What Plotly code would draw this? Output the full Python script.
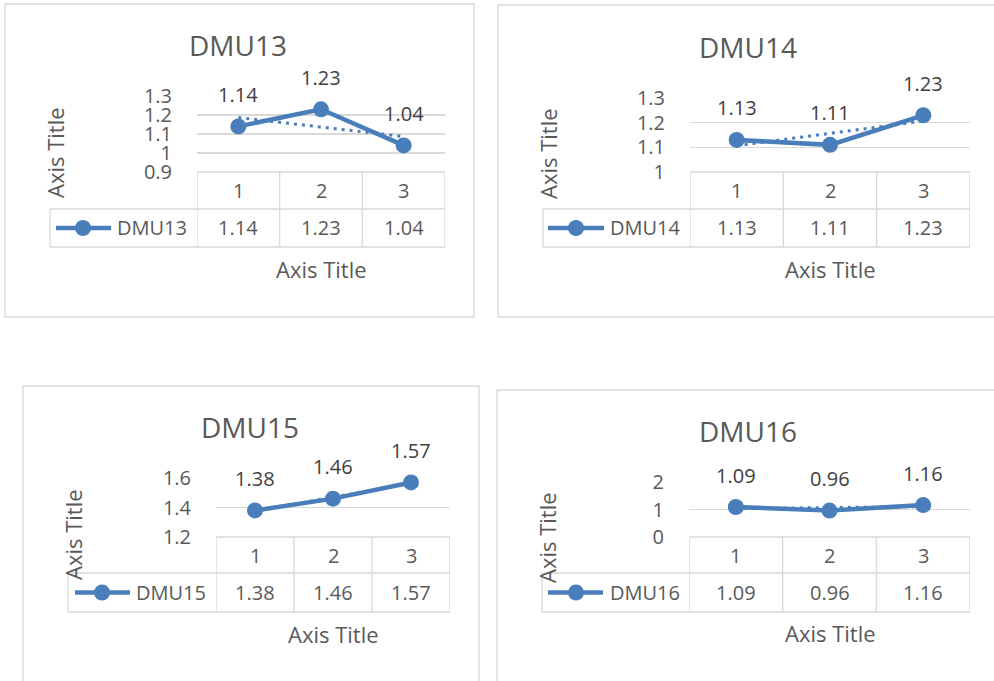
import numpy as np
import plotly.graph_objects as go

W, H = 994, 681

# ---------------- data ----------------
categories = [1, 2, 3]
category_labels = ["1", "2", "3"]
series_names = ["DMU13", "DMU14", "DMU15", "DMU16"]
dmu13 = [1.14, 1.23, 1.04]
dmu14 = [1.13, 1.11, 1.23]
dmu15 = [1.38, 1.46, 1.57]
dmu16 = [1.09, 0.96, 1.16]
series_values = [dmu13, dmu14, dmu15, dmu16]
y_ranges = [[0.9, 1.3], [1.0, 1.3], [1.2, 1.6], [0, 2]]
y_ticks = [[0.9, 1.0, 1.1, 1.2, 1.3], [1.0, 1.1, 1.2, 1.3], [1.2, 1.4, 1.6], [0, 1, 2]]
axis_title = "Axis Title"

# ---------------- styles / layout (pixels) ----------------
BLUE = "#4A7EBB"
TXT = "#595959"
GRID = "#D9D9D9"
FONT = "Open Sans"

boxes = [
    dict(frame=(5, 4, 474, 317), px0=197, px1=445, top=96, ttop=172, r1=209, r2=247,
         lleft=50, key=(56, 111), mark=83, lab=115, title=(238, 45), xt=(321, 269), yt=(55, 153)),
    dict(frame=(498, 5, 1000, 317), px0=690, px1=970, top=98, ttop=172, r1=209, r2=247,
         lleft=543, key=(548, 604), mark=576, lab=608, title=(748, 47), xt=(830, 269), yt=(548, 154)),
    dict(frame=(23, 386, 479, 690), px0=216, px1=450, top=478, ttop=537, r1=573, r2=612,
         lleft=68, key=(75, 130), mark=102, lab=134, title=(250, 427), xt=(333, 634), yt=(73, 535)),
    dict(frame=(497, 390, 1000, 690), px0=689, px1=970, top=482, ttop=537, r1=573, r2=612,
         lleft=542, key=(548, 603), mark=576, lab=608, title=(748, 431), xt=(830, 633), yt=(547, 538)),
]


def px(v):
    return v / W


def py(v):
    return 1 - v / H


fig = go.Figure()
shapes = []
annotations = []
axes_layout = {}

for i, (name, vals, yr, yt) in enumerate(zip(series_names, series_values, y_ranges, y_ticks)):
    b = boxes[i]
    sfx = "" if i == 0 else str(i + 1)
    xa, ya = "x" + sfx, "y" + sfx

    # frame
    f = b["frame"]
    shapes.append(dict(type="rect", xref="paper", yref="paper", x0=px(f[0]), x1=px(f[2]),
                       y0=py(f[3]), y1=py(f[1]), line=dict(color=GRID, width=1.3), layer="below"))

    # series
    fig.add_trace(go.Scatter(x=categories, y=vals, mode="lines+markers", xaxis=xa, yaxis=ya,
                             line=dict(color=BLUE, width=4.5), marker=dict(size=16, color=BLUE),
                             showlegend=False, cliponaxis=False, hoverinfo="skip"))
    slope, inter = np.polyfit(categories, vals, 1)
    trend = [slope * c + inter for c in categories]
    fig.add_trace(go.Scatter(x=categories, y=trend, mode="lines", xaxis=xa, yaxis=ya,
                             line=dict(color=BLUE, width=3, dash="3px,5px"),
                             showlegend=False, hoverinfo="skip"))

    axes_layout["xaxis" + sfx] = dict(domain=[px(b["px0"]), px(b["px1"])], range=[0.5, 3.5],
                                      showticklabels=False, showgrid=False, zeroline=False,
                                      showline=False, anchor=ya, fixedrange=True, automargin=False)
    axes_layout["yaxis" + sfx] = dict(domain=[py(b["ttop"]), py(b["top"])], range=yr,
                                      tickmode="array", tickvals=yt, ticktext=[f"{v:g}" for v in yt],
                                      showgrid=True, gridcolor=GRID, gridwidth=1.3, zeroline=False,
                                      showline=False, ticks="outside", ticklen=20,
                                      tickcolor="rgba(0,0,0,0)",
                                      tickfont=dict(family=FONT, size=20, color=TXT),
                                      anchor=xa, fixedrange=True, automargin=False)

    # data table grid
    lc = dict(color=GRID, width=1.3)
    shapes.append(dict(type="line", xref="paper", yref="paper", x0=px(b["px0"]), x1=px(b["px1"]),
                       y0=py(b["ttop"]), y1=py(b["ttop"]), line=lc))
    for yy in (b["r1"], b["r2"]):
        shapes.append(dict(type="line", xref="paper", yref="paper", x0=px(b["lleft"]), x1=px(b["px1"]),
                           y0=py(yy), y1=py(yy), line=lc))
    for c in categories + [categories[-1] + 1]:
        shapes.append(dict(type="line", xref=xa, yref="paper", x0=c - 0.5, x1=c - 0.5,
                           y0=py(b["ttop"]), y1=py(b["r2"]), line=lc))
    shapes.append(dict(type="line", xref="paper", yref="paper", x0=px(b["lleft"]), x1=px(b["lleft"]),
                       y0=py(b["r1"]), y1=py(b["r2"]), line=lc))

    # legend key
    ym = (b["r1"] + b["r2"]) / 2
    shapes.append(dict(type="line", xref="paper", yref="paper", x0=px(b["key"][0]), x1=px(b["key"][1]),
                       y0=py(ym), y1=py(ym), line=dict(color=BLUE, width=4.5)))
    shapes.append(dict(type="circle", xref="paper", yref="paper", xsizemode="pixel", ysizemode="pixel",
                       xanchor=px(b["mark"]), yanchor=py(ym), x0=-8, x1=8, y0=-8, y1=8,
                       fillcolor=BLUE, line=dict(width=0)))
    annotations.append(dict(text=name, xref="paper", yref="paper", x=px(b["lab"]), y=py(ym),
                            xanchor="left", yanchor="middle", showarrow=False,
                            font=dict(family=FONT, size=20, color=TXT)))

    # table text
    yc = (b["ttop"] + b["r1"]) / 2
    for c, lab, v in zip(categories, category_labels, vals):
        annotations.append(dict(text=lab, xref=xa, yref="paper", x=c, y=py(yc), xanchor="center",
                                yanchor="middle", showarrow=False, font=dict(family=FONT, size=20, color=TXT)))
        annotations.append(dict(text=f"{v:.2f}", xref=xa, yref="paper", x=c, y=py(ym), xanchor="center",
                                yanchor="middle", showarrow=False, font=dict(family=FONT, size=20, color=TXT)))
        # data labels
        annotations.append(dict(text=f"{v:.2f}", xref=xa, yref=ya, x=c, y=v, yshift=32, xanchor="center",
                                yanchor="middle", showarrow=False, font=dict(family=FONT, size=20, color="#404040")))

    # titles
    annotations.append(dict(text=name, xref="paper", yref="paper", x=px(b["title"][0]), y=py(b["title"][1]),
                            xanchor="center", yanchor="middle", showarrow=False,
                            font=dict(family=FONT, size=28, color=TXT)))
    annotations.append(dict(text=axis_title, xref="paper", yref="paper", x=px(b["xt"][0]), y=py(b["xt"][1]),
                            xanchor="center", yanchor="middle", showarrow=False,
                            font=dict(family=FONT, size=22, color=TXT)))
    annotations.append(dict(text=axis_title, xref="paper", yref="paper", x=px(b["yt"][0]), y=py(b["yt"][1]),
                            xanchor="center", yanchor="middle", showarrow=False, textangle=-90,
                            font=dict(family=FONT, size=22, color=TXT)))

fig.update_layout(**axes_layout)
fig.update_layout(width=W, height=H, margin=dict(l=0, r=0, t=0, b=0, autoexpand=False),
                  paper_bgcolor="white", plot_bgcolor="white",
                  shapes=shapes, annotations=annotations, showlegend=False,
                  font=dict(family=FONT, color=TXT))
fig.write_html("out.html", config={"displayModeBar": False, "staticPlot": True},
               post_script="document.body.style.margin='0px';")
